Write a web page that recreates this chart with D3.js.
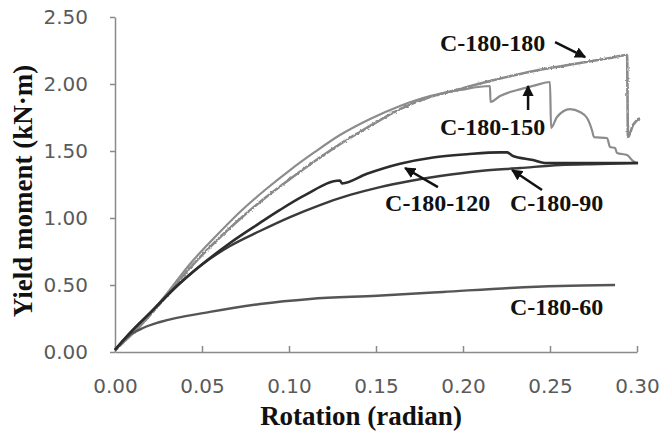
<!DOCTYPE html>
<html lang="en">
<head>
    <meta charset="utf-8" />
    <title>Yield moment vs rotation</title>
    <script src="https://d3js.org/d3.v7.min.js"></script>
    <style>
        body { margin: 0; background: #fff; }
    </style>
</head>
<body>
<script>
    var w = 659;
    var h = 434;

    // tick values
    var xTicks = [0, 0.05, 0.10, 0.15, 0.20, 0.25, 0.30];
    var yTicks = [0, 0.5, 1.0, 1.5, 2.0, 2.5];

    // C-180-60
    var rot60 = [0, 0.0029, 0.0057, 0.0086, 0.0161, 0.0259, 0.0546, 0.0833, 0.1121, 0.1506, 0.1885, 0.2270, 0.2557, 0.2874];
    var mom60 = [0.015, 0.060, 0.097, 0.127, 0.179, 0.224, 0.299, 0.358, 0.396, 0.420, 0.448, 0.478, 0.493, 0.500];

    // C-180-90
    var rot90 = [0, 0.0086, 0.0201, 0.0362, 0.0489, 0.0661, 0.0833, 0.1006, 0.1178, 0.1351, 0.1523, 0.1695, 0.1868, 0.2098, 0.2328, 0.2557, 0.2787, 0.3006];
    var mom90 = [0.015, 0.142, 0.291, 0.500, 0.642, 0.791, 0.903, 1.007, 1.097, 1.172, 1.231, 1.276, 1.313, 1.351, 1.373, 1.396, 1.403, 1.410];

    // C-180-120
    var rot120 = [0, 0.0086, 0.0201, 0.0362, 0.0489, 0.0661, 0.0833, 0.0948, 0.1092, 0.1293, 0.1305, 0.1448, 0.1638, 0.1828, 0.2023, 0.2213, 0.2253, 0.2287, 0.2402, 0.2471, 0.2672, 0.3006];
    var mom120 = [0.015, 0.142, 0.291, 0.500, 0.642, 0.813, 0.963, 1.060, 1.170, 1.280, 1.258, 1.330, 1.405, 1.452, 1.476, 1.490, 1.490, 1.463, 1.433, 1.410, 1.410, 1.410];

    // C-180-150
    var rot150 = [0, 0.0144, 0.0287, 0.0431, 0.0575, 0.0718, 0.0862, 0.1006, 0.1149, 0.1293, 0.1466, 0.1638, 0.1810, 0.1983, 0.2155, 0.2158, 0.2213, 0.2270, 0.2328, 0.2414, 0.2500, 0.2506, 0.2540, 0.2615, 0.2672, 0.2713, 0.2741, 0.2753, 0.2828, 0.2845, 0.2874, 0.2885, 0.2943, 0.2971, 0.2994];
    var mom150 = [0.015, 0.201, 0.418, 0.657, 0.858, 1.045, 1.209, 1.358, 1.493, 1.619, 1.739, 1.836, 1.910, 1.955, 1.985, 1.866, 1.910, 1.940, 1.960, 1.990, 2.015, 1.672, 1.754, 1.813, 1.791, 1.746, 1.657, 1.604, 1.597, 1.530, 1.522, 1.485, 1.470, 1.433, 1.410];

    // C-180-180
    var rot180 = [0, 0.0144, 0.0287, 0.0431, 0.0575, 0.0718, 0.0862, 0.1006, 0.1149, 0.1293, 0.1466, 0.1638, 0.1810, 0.1983, 0.2155, 0.2328, 0.2500, 0.2672, 0.2845, 0.2943, 0.2948, 0.2977, 0.3017];
    var mom180 = [0.015, 0.194, 0.403, 0.627, 0.821, 0.993, 1.149, 1.291, 1.425, 1.552, 1.687, 1.813, 1.903, 1.963, 2.022, 2.075, 2.119, 2.157, 2.194, 2.216, 1.604, 1.694, 1.746];

    function zip(xs, ys) {
        return xs.map(function (x, i) { return [x, ys[i]]; });
    }

    // draw order: grey lines under the dark ones
    var series = [
        {name: "C-180-150", data: zip(rot150, mom150), color: "#8c8c8c", width: 2.2, rough: false},
        {name: "C-180-180", data: zip(rot180, mom180), color: "#8a8a8a", width: 2.6, rough: true},
        {name: "C-180-60",  data: zip(rot60, mom60),   color: "#555555", width: 2.4, rough: false},
        {name: "C-180-90",  data: zip(rot90, mom90),   color: "#3a3a3a", width: 2.4, rough: false},
        {name: "C-180-120", data: zip(rot120, mom120), color: "#2c2c2c", width: 2.6, rough: false}
    ];

    // labels and arrows, in data units
    var labels = [
        {text: "C-180-180", x: 0.1868, y: 2.246},
        {text: "C-180-150", x: 0.1868, y: 1.619},
        {text: "C-180-120", x: 0.1552, y: 1.052},
        {text: "C-180-90",  x: 0.2270, y: 1.052},
        {text: "C-180-60",  x: 0.2270, y: 0.276}
    ];
    var arrows = [
        {x1: 0.2529, y1: 2.313, x2: 0.2702, y2: 2.201},
        {x1: 0.2374, y1: 1.806, x2: 0.2374, y2: 1.985},
        {x1: 0.1856, y1: 1.231, x2: 0.1667, y2: 1.373},
        {x1: 0.2454, y1: 1.209, x2: 0.2282, y2: 1.358}
    ];

    var xScale = d3.scaleLinear().domain([0, 0.30]).range([115, 637]);
    var yScale = d3.scaleLinear().domain([0, 2.5]).range([352, 17]);

    var svg = d3.select("body")
        .append("svg")
        .attr("width", w)
        .attr("height", h);

    var defs = svg.append("defs");
    defs.append("marker")
        .attr("id", "head")
        .attr("viewBox", "0 0 10 10")
        .attr("refX", 9)
        .attr("refY", 5)
        .attr("markerWidth", 4.5)
        .attr("markerHeight", 4.5)
        .attr("markerUnits", "strokeWidth")
        .attr("orient", "auto")
        .append("path")
        .attr("d", "M0,0 L10,5 L0,10 z")
        .attr("fill", "#111");

    // slight jitter to mimic the serrated test record
    var f = defs.append("filter").attr("id", "rough")
        .attr("x", "-5%").attr("y", "-5%").attr("width", "110%").attr("height", "110%");
    f.append("feTurbulence")
        .attr("type", "fractalNoise")
        .attr("baseFrequency", 0.45)
        .attr("numOctaves", 1)
        .attr("seed", 3)
        .attr("result", "noise");
    f.append("feDisplacementMap")
        .attr("in", "SourceGraphic")
        .attr("in2", "noise")
        .attr("scale", 3)
        .attr("xChannelSelector", "R")
        .attr("yChannelSelector", "G");

    // axes
    var xAxis = d3.axisBottom(xScale)
        .tickValues(xTicks)
        .tickSizeInner(-6)
        .tickSizeOuter(0)
        .tickPadding(27)
        .tickFormat(d3.format(".2f"));

    var yAxis = d3.axisLeft(yScale)
        .tickValues(yTicks)
        .tickSizeInner(5)
        .tickSizeOuter(0)
        .tickPadding(22)
        .tickFormat(d3.format(".2f"));

    var gx = svg.append("g")
        .attr("transform", "translate(0,352)")
        .call(xAxis);
    var gy = svg.append("g")
        .attr("transform", "translate(115,0)")
        .call(yAxis);

    [gx, gy].forEach(function (g) {
        g.selectAll("path, line").attr("stroke", "#8a8a8a").attr("stroke-width", 1.5);
        g.selectAll("text")
            .attr("font-family", "DejaVu Sans")
            .attr("font-size", "20px")
            .attr("fill", "#5a5a5a");
    });

    // curves
    var line = d3.line()
        .curve(d3.curveMonotoneX)
        .x(function (d) { return xScale(d[0]); })
        .y(function (d) { return yScale(d[1]); });

    svg.selectAll("path.curve")
        .data(series)
        .enter()
        .append("path")
        .attr("class", "curve")
        .attr("d", function (d) { return line(d.data); })
        .attr("fill", "none")
        .attr("stroke", function (d) { return d.color; })
        .attr("stroke-width", function (d) { return d.width; })
        .attr("stroke-linejoin", "round")
        .attr("filter", function (d) { return d.rough ? "url(#rough)" : null; });

    // arrows
    svg.selectAll("line.arrow")
        .data(arrows)
        .enter()
        .append("line")
        .attr("class", "arrow")
        .attr("x1", function (d) { return xScale(d.x1); })
        .attr("y1", function (d) { return yScale(d.y1); })
        .attr("x2", function (d) { return xScale(d.x2); })
        .attr("y2", function (d) { return yScale(d.y2); })
        .attr("stroke", "#111")
        .attr("stroke-width", 2.5)
        .attr("marker-end", "url(#head)");

    // series labels
    svg.selectAll("text.lbl")
        .data(labels)
        .enter()
        .append("text")
        .attr("class", "lbl")
        .attr("x", function (d) { return xScale(d.x); })
        .attr("y", function (d) { return yScale(d.y); })
        .text(function (d) { return d.text; })
        .attr("font-family", "Liberation Serif")
        .attr("font-weight", "bold")
        .attr("font-size", "24px")
        .attr("fill", "#111");

    // axis titles
    svg.append("text")
        .attr("text-anchor", "middle")
        .attr("x", 361)
        .attr("y", 425)
        .text("Rotation (radian)")
        .attr("font-family", "Liberation Serif")
        .attr("font-weight", "bold")
        .attr("font-size", "27px")
        .attr("fill", "#111");

    svg.append("text")
        .attr("text-anchor", "middle")
        .attr("transform", "rotate(-90)")
        .attr("x", -191)
        .attr("y", 32)
        .text("Yield moment (kN·m)")
        .attr("font-family", "Liberation Serif")
        .attr("font-weight", "bold")
        .attr("font-size", "27px")
        .attr("fill", "#111");
</script>
</body>
</html>
